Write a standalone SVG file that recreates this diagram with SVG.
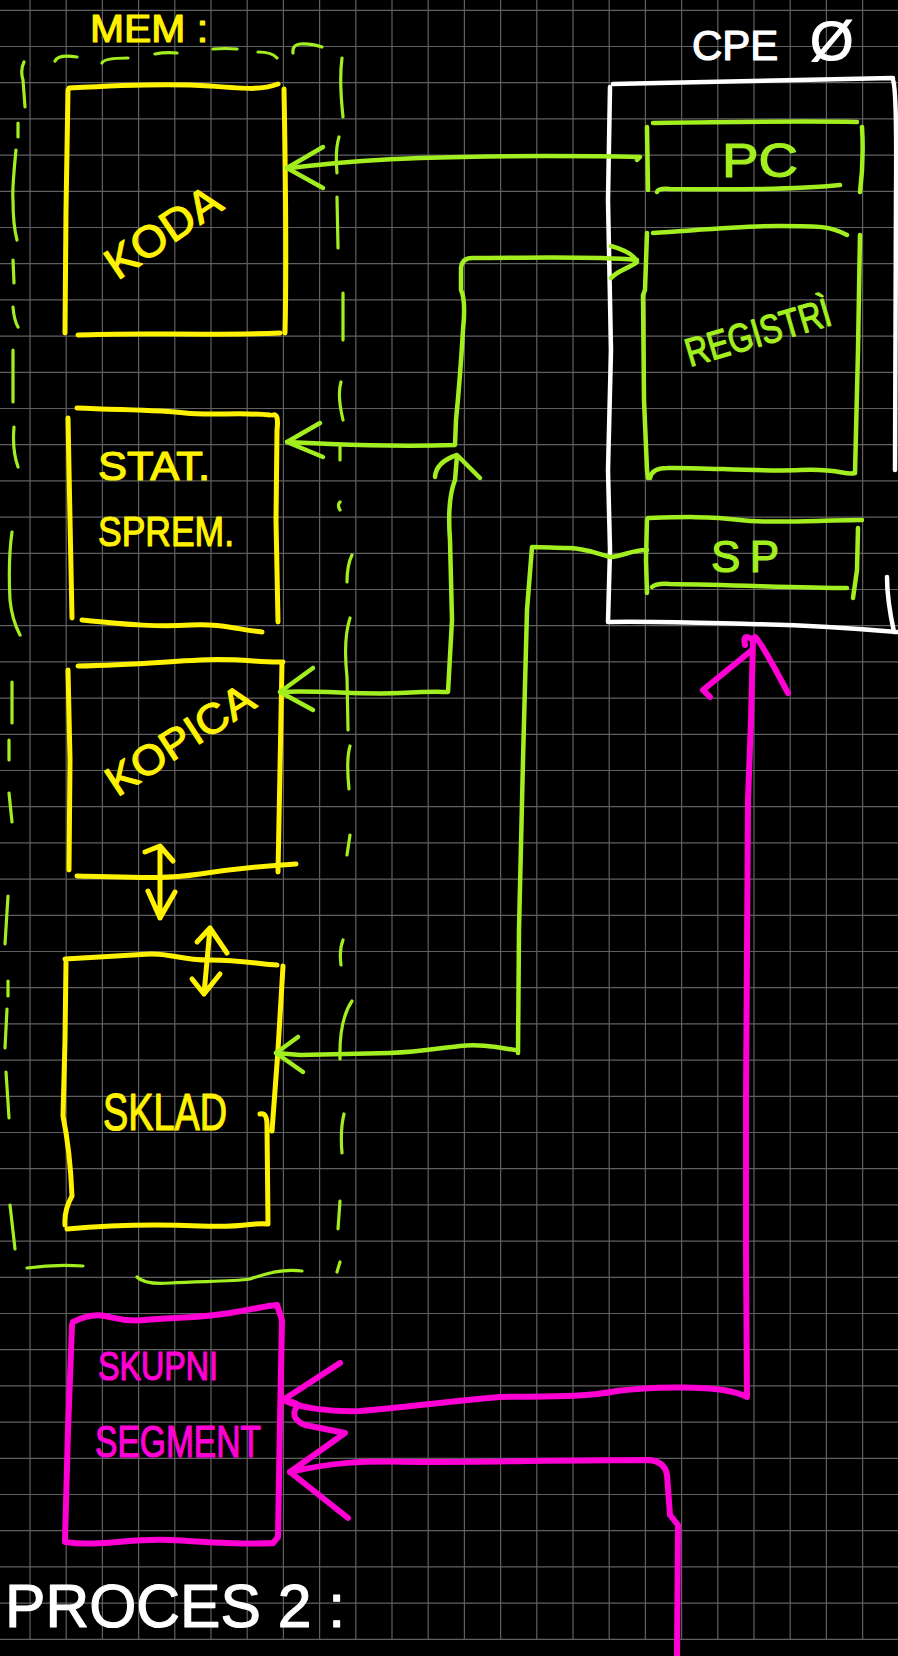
<svg xmlns="http://www.w3.org/2000/svg" width="898" height="1656" viewBox="0 0 898 1656">
<style>
.y{stroke:#fff200;stroke-width:5;fill:none;stroke-linecap:round;stroke-linejoin:round}
.g{stroke:#a2ee1f;stroke-width:4.5;fill:none;stroke-linecap:round;stroke-linejoin:round}
.gd{stroke:#a2ee1f;stroke-width:3.2;fill:none;stroke-linecap:round;stroke-linejoin:round}
.m{stroke:#ff00d4;stroke-width:6;fill:none;stroke-linecap:round;stroke-linejoin:round}
.w{stroke:#ffffff;stroke-width:4.5;fill:none;stroke-linecap:round;stroke-linejoin:round}
text{font-family:"Liberation Sans",Arial,sans-serif;stroke-width:1.2;stroke-linejoin:round}
.ty{fill:#fff200;stroke:#fff200}.tg{fill:#a2ee1f;stroke:#a2ee1f}.tm{fill:#ff00d4;stroke:#ff00d4}.tw{fill:#ffffff;stroke:#ffffff}
</style>
<rect width="898" height="1656" fill="#000"/>
<g id="grid" stroke="#606060" stroke-width="1.2" fill="none">
<path d="M30 0V1639.3M66.2 0V1639.3M102.4 0V1639.3M138.6 0V1639.3M174.8 0V1639.3M211 0V1639.3M247.2 0V1639.3M283.4 0V1639.3M319.6 0V1639.3M355.8 0V1639.3M392 0V1639.3M428.2 0V1639.3M464.4 0V1639.3M500.6 0V1639.3M536.8 0V1639.3M573 0V1639.3M609.2 0V1639.3M645.4 0V1639.3M681.6 0V1639.3M717.8 0V1639.3M754 0V1639.3M790.2 0V1639.3M826.4 0V1639.3M862.6 0V1639.3"/>
<path d="M0 10.3H898M0 46.5H898M0 82.7H898M0 118.9H898M0 155.1H898M0 191.3H898M0 227.5H898M0 263.7H898M0 299.9H898M0 336.1H898M0 372.3H898M0 408.5H898M0 444.7H898M0 480.9H898M0 517.1H898M0 553.3H898M0 589.5H898M0 625.7H898M0 661.9H898M0 698.1H898M0 734.3H898M0 770.5H898M0 806.7H898M0 842.9H898M0 879.1H898M0 915.3H898M0 951.5H898M0 987.7H898M0 1023.9H898M0 1060.1H898M0 1096.3H898M0 1132.5H898M0 1168.7H898M0 1204.9H898M0 1241.1H898M0 1277.3H898M0 1313.5H898M0 1349.7H898M0 1385.9H898M0 1422.1H898M0 1458.3H898M0 1494.5H898M0 1530.7H898M0 1566.9H898M0 1603.1H898M0 1639.3H898"/>
</g>

<g id="mem">
<text class="ty" x="90" y="42" font-size="38" textLength="118" lengthAdjust="spacingAndGlyphs">MEM :</text>
<path class="gd" d="M55 61Q58 54 77 57M102 63Q104 58 128 58M155 54Q165 52 177 53M213 49Q225 48 237 49M258 52Q272 52 277 58M293 53Q292 45 300 44Q310 43 322 47"/>
<path class="gd" d="M24 62Q20 70 23 80L25 107M18 123L18 137M16 150Q12 190 13 200Q13 225 17 240M13 260L14 283M13 307Q14 320 18 327M13 350L13 402M14 427Q12 450 18 467M12 532Q8 560 10 600Q12 620 20 635M12 682L12 723M9 740L9 760M9 793L12 822M8 896L5 944M8 981L8 996M7 1009L5 1048M6 1072L9 1118M10 1205L15 1249"/>
<path class="gd" d="M342 58Q339 80 343 117M339 137Q335 150 337 173M337 197L338 248M343 293L343 340M341 382Q337 395 343 420M340 445L340 460M340 502Q337 505 340 510M352 555Q347 565 347 582M350 618Q343 640 347 677L348 730M350 746Q346 760 349 789M350 835L347 855M343 940Q339 950 341 965M352 1001Q339 1020 340 1059M344 1114Q340 1130 342 1153M340 1201L338 1229M340 1262L337 1272"/>
<path class="gd" d="M27 1268Q55 1264 83 1266M137 1277Q145 1285 170 1283C200 1281 230 1282 250 1279Q280 1268 302 1271"/>
</g>

<g id="node-koda">
<path class="y" d="M69 88C120 85 170 83 210 86S262 90 278 84M68 90L66 210L65 333M284 89C285 150 287 250 285 333M78 335C140 332 200 336 280 333"/>
<text class="ty" x="163" y="247" font-size="44" text-anchor="middle" textLength="130" lengthAdjust="spacingAndGlyphs" transform="rotate(-34 163 232)">KODA</text>
</g>

<g id="node-stat">
<path class="y" d="M77 408C120 410 160 410 185 413S240 412 270 415M68 418L70 520L72 618M273 415Q279 413 277 430L276 520L278 622M82 620C130 625 160 627 190 625S240 630 262 632"/>
<text class="ty" x="98" y="480" font-size="40" textLength="112" lengthAdjust="spacingAndGlyphs">STAT.</text>
<text class="ty" x="98" y="546" font-size="42" textLength="136" lengthAdjust="spacingAndGlyphs">SPREM.</text>
</g>

<g id="node-kopica">
<path class="y" d="M78 666C130 665 160 662 200 660S260 663 283 662M68 670L70 760L69 870M282 662L280 770L278 872M77 876C130 877 160 880 200 874S260 866 296 864"/>
<text class="ty" x="180" y="754" font-size="42" text-anchor="middle" textLength="168" lengthAdjust="spacingAndGlyphs" transform="rotate(-33 180 740)">KOPICA</text>
</g>

<g id="node-sklad">
<path class="y" d="M65 959C100 957 130 955 150 954S180 960 210 960S260 964 277 965M66 962L65 1040L63 1116Q70 1150 72 1196Q64 1210 65 1225M283 966L278 1050L272 1131M260 1114Q267 1112 267 1125L268 1224M67 1229C100 1226 150 1224 200 1226S250 1222 268 1224"/>
<text class="ty" x="103" y="1130" font-size="52" textLength="124" lengthAdjust="spacingAndGlyphs">SKLAD</text>
</g>

<g id="node-skupni">
<path class="m" d="M73 1322C85 1316 95 1314 105 1316S125 1322 145 1320S200 1318 230 1313S265 1306 277 1305M277 1305L282 1320L280 1420L278 1537L273 1543M72 1325L68 1430L65 1540M65 1542C100 1547 130 1538 170 1540S240 1545 273 1543"/>
<text class="tm" x="98" y="1380" font-size="40" textLength="120" lengthAdjust="spacingAndGlyphs">SKUPNI</text>
<text class="tm" x="95" y="1457" font-size="44" textLength="166" lengthAdjust="spacingAndGlyphs">SEGMENT</text>
</g>

<g id="node-cpe">
<path class="w" d="M613 84C700 82 780 80 893 78M610 87L608 200L611 350L608 470L610 550L608 622M608 622C650 621 700 623 750 624S850 628 897 632M893 80Q897 90 896 200L895 470M887 577Q887 600 894 632"/>
<text class="tw" x="692" y="60" font-size="42">CPE <tspan font-size="56" x="810" y="60">Ø</tspan></text>
</g>

<g id="node-pc">
<path class="g" d="M653 123C720 122 800 121 857 122M647 127L648 190M862 127Q864 160 860 192M657 192Q658 188 670 189C740 190 800 189 840 185"/>
<text class="tg" x="722" y="177" font-size="48" textLength="76" lengthAdjust="spacingAndGlyphs">PC</text>
</g>

<g id="node-registri">
<path class="g" d="M653 233C700 230 740 226 780 226S830 226 847 235M647 233L645 290L643 295L644 400L647 470L648 478M860 235L858 350L855 473M650 478Q652 468 667 468C700 467 760 472 800 470S845 476 855 473"/>
<text class="tg" x="690" y="367" font-size="40" textLength="150" lengthAdjust="spacingAndGlyphs" transform="rotate(-16.5 690 367)">REGISTRÌ</text>
</g>

<g id="node-sp">
<path class="g" d="M648 518C680 517 710 516 740 520S820 520 862 520M647 519L646 560L647 593M858 528L857 570L853 598M652 587Q656 583 670 584C740 585 800 588 847 588"/>
<text class="tg" x="711" y="572" font-size="44" textLength="68" lengthAdjust="spacing">SP</text>
</g>

<g id="connectors">
<path class="g" d="M637 160L640 157C600 156 500 155 420 158S320 165 287 168"/>
<path class="g" stroke-width="5.5" d="M323 147L287 168L323 188"/>
<path class="g" d="M287 442L330 444C380 446 420 446 455 445L456 420Q460 380 463 330Q466 300 461 290L461 268Q462 258 472 258C540 258 590 256 637 260"/>
<path class="g" d="M320 423L287 442L323 457"/>
<path class="g" d="M611 246C625 250 635 256 637 262C630 268 618 270 611 278"/>
<path class="g" d="M280 692C320 690 360 695 400 693S440 692 448 692L452 620L450 540Q447 500 455 480L457 456"/>
<path class="g" d="M313 668L280 692L313 710"/>
<path class="g" stroke-width="5.5" d="M435 477Q436 462 457 455L480 478"/>
<path class="g" d="M647 550C635 549 620 557 610 557C595 553 585 548 567 548C555 548 545 547 532 547L527 610L523 760L519 930L518 1053M515 1050C495 1047 480 1044 460 1046C440 1048 420 1052 390 1053L300 1055L276 1053"/>
<path class="g" stroke-width="5.5" d="M298 1037L276 1053L303 1072"/>
<path class="y" d="M160 848L160 918M145 852L160 846L173 861M148 891L160 918L175 892"/>
<path class="y" d="M210 928L204 994M197 942L210 928L227 953M192 979L204 994L220 974"/>
<path class="m" d="M283 1400C300 1408 330 1412 360 1411C400 1408 460 1400 500 1397C540 1396 580 1398 617 1391C650 1387 700 1386 723 1390Q740 1393 747 1397L746 1250L746 1100L747 950L748 800L751 720L753 640"/>
<path class="m" d="M710 697L703 690L752 650M755 637Q760 640 788 693M753 640Q742 632 745 645"/>
<path class="m" d="M340 1363L283 1400Q295 1402 298 1405Q288 1418 305 1425L345 1433L290 1472L348 1518"/>
<path class="m" d="M290 1472C330 1463 360 1460 420 1462C500 1462 560 1460 650 1460Q665 1462 667 1475L670 1515L678 1525L677 1656"/>
</g>

<text id="label-proces" class="tw" x="5" y="1627" font-size="62" textLength="340" lengthAdjust="spacingAndGlyphs">PROCES 2 :</text>
</svg>
